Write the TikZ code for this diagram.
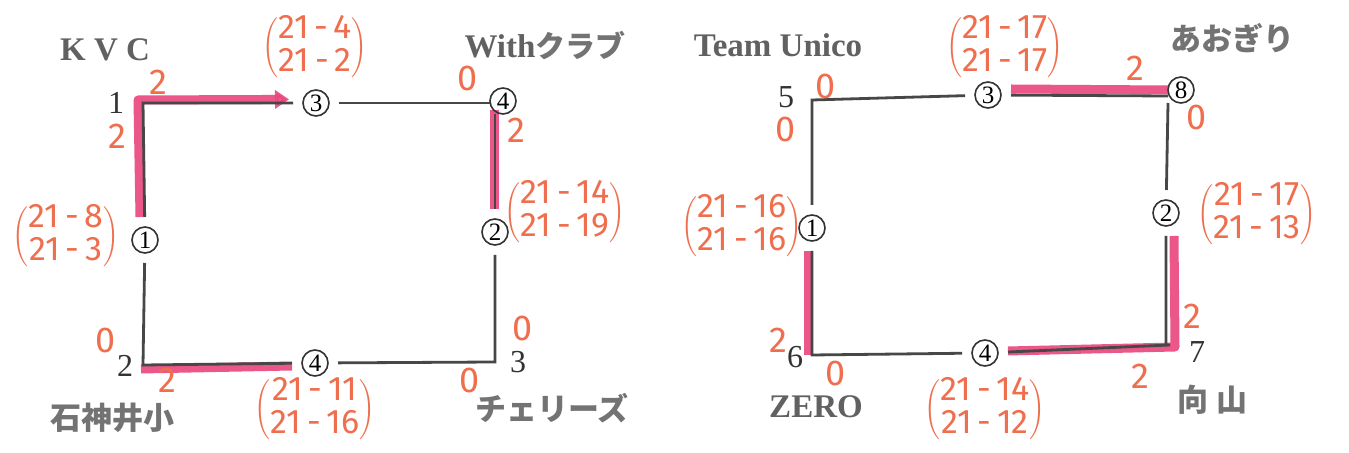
\documentclass[tikz,border=0pt]{standalone}
\usepackage{fontspec}
\setmainfont{Liberation Serif}
\newfontfamily\jp{Noto Sans CJK JP}
\newfontfamily\hand{Fira Sans}
\usetikzlibrary{backgrounds,arrows.meta}
\definecolor{hlpink}{HTML}{E8457C}
\definecolor{handc}{HTML}{EF6E4E}
\newcommand\scpair[2]{$\left(\vcenter{\hbox{\hand\fontsize{17}{15.5}\selectfont\begin{tabular}{@{}c@{}}#1\\#2\end{tabular}}}\right)$}
\begin{document}
\begin{tikzpicture}[x=0.5pt,y=-0.5pt,
 blk/.style={draw=black!72, line width=1.4pt},
 hl/.style={draw=hlpink, line width=4.5pt, opacity=0.9},
 cnum/.style={circle, draw=black!80, line width=0.8pt, inner sep=0pt, minimum size=13pt, font=\fontsize{12.5}{12.5}\selectfont, outer sep=5pt},
 team/.style={text=black!62, font=\fontsize{16.5}{18}\selectfont\bfseries, inner sep=0pt},
 jteam/.style={text=black!55, font=\fontsize{15.5}{17}\selectfont\jp\bfseries, inner sep=0pt},
 seed/.style={text=black!80, font=\fontsize{16}{18}\selectfont, inner sep=0pt},
 sc/.style={text=handc, font=\hand\fontsize{18}{18}\selectfont, inner sep=0pt},
 pr/.style={text=handc, inner sep=0pt, font=\fontsize{16}{16}\selectfont}]
\useasboundingbox (0,0) rectangle (1349,453);
\begin{scope}[on background layer]
\fill[white] (0,0) rectangle (1349,453);
\end{scope}
% ---------- left square ----------
\coordinate (L1) at (143,103);
\coordinate (L2) at (143,365);
\coordinate (L3) at (495,362);
\coordinate (L4) at (495,103);
\node[cnum] (Lt) at (316,103) {3};
\node[cnum, outer sep=0pt] (Ltr) at (503,101) {4};
\node[cnum] (Lr) at (495,232) {2};
\node[cnum] (Lb) at (315,363) {4};
\node[cnum] (Ll) at (145,240) {1};
\draw[blk] (Ll) -- (L1) -- (Lt);
\draw[blk] (Lt) -- (Ltr.west |- L4);
\draw[blk] (L4 |- Ltr.south) -- (Lr);
\draw[blk] (Lr) -- (L3) -- (Lb);
\draw[blk] (Lb) -- (L2) -- (Ll);
\begin{scope}[on background layer]
\draw[hl, line join=round, -{Triangle[length=7pt,width=9pt]}] ([xshift=-2.5pt]Ll.north) -- ([xshift=-2.5pt,yshift=1.5pt]L1) -- ([yshift=1.8pt,xshift=-2pt]Lt.west);
\draw[hl] ([xshift=-0.5pt]L4 |- Ltr.south) ++(0,-4) -- ([xshift=-0.5pt]Lr.north);
\draw[hl] ([yshift=-2pt,xshift=-1pt]L2) -- ([yshift=-1.5pt]Lb.west);
\end{scope}
\node[seed] (n1) at (116,103) {1};
\node[seed] (n2) at (125,366) {2};
\node[seed] (n3) at (518,362) {3};
\node[team] (tKVC) at (105,50) {K V C};
\node[team] (tWith) at (545,46) {With{\jp\fontsize{15}{17}\selectfont\color{black!55}クラブ}};
\node[jteam] (tIshi) at (112,418) {石神井小};
\node[jteam] (tCher) at (552,408) {チェリーズ};
\node[sc] (a1) at (158,82) {2};
\node[sc] (a2) at (117,136) {2};
\node[pr] (p1) at (315,48) {\scpair{21\,-\,4}{21\,-\,2}};
\node[pr] (p2) at (66,237) {\scpair{21\,-\,8}{21\,-\,3}};
\node[sc] (a3) at (468,79) {0};
\node[sc] (a4) at (516,130) {2};
\node[pr] (p3) at (565,213) {\scpair{21\,-\,14}{21\,-\,19}};
\node[sc] (a5) at (106,340) {0};
\node[sc] (a6) at (167,380) {2};
\node[pr] (p4) at (315,410) {\scpair{21\,-\,11}{21\,-\,16}};
\node[sc] (a7) at (523,328) {0};
\node[sc] (a8) at (470,380) {0};
% ---------- right square ----------
\coordinate (R5) at (812,100);
\coordinate (R8c) at (1168,96);
\coordinate (R7) at (1170,345);
\coordinate (R6) at (812,355);
\node[cnum] (Rt) at (988,95) {3};
\node[cnum, outer sep=0pt] (R8) at (1181,90) {8};
\node[cnum] (Rr) at (1166,213) {2};
\node[cnum] (Rb) at (985,353) {4};
\node[cnum] (Rl) at (812,228) {1};
\draw[blk] (Rl) -- (R5) -- (Rt);
\draw[blk] (Rt) -- (R8c);
\draw[blk] (R8c |- R8.south) -- (Rr);
\draw[blk] (Rr) -- (Rr |- R7) -- (R7) -- (Rb);
\draw[blk] (Rb) -- (R6) -- (Rl);
\begin{scope}[on background layer]
\draw[hl] ([yshift=3pt]Rt.east) -- ([yshift=3pt]R8c);
\draw[hl, line join=round] ([xshift=4pt]Rr.south) -- ([xshift=2.5pt,yshift=-1pt]R7) -- ([yshift=1pt]Rb.east);
\draw[hl] ([xshift=-2pt]Rl.south) -- ([xshift=-2pt]R6);
\end{scope}
\node[seed] (n5) at (786,97) {5};
\node[seed] (n6) at (795,357) {6};
\node[seed] (n7) at (1197,352) {7};
\node[team] (tUni) at (778,45) {Team Unico};
\node[jteam] (tAo) at (1232,38) {あおぎり};
\node[team] (tZero) at (816,407) {ZERO};
\node[jteam] (tMuk) at (1212,400) {向\hspace{4pt}山};
\node[sc] (b1) at (826,87) {0};
\node[sc] (b2) at (786,129) {0};
\node[pr] (q1) at (1005,48) {\scpair{21\,-\,17}{21\,-\,17}};
\node[sc] (b3) at (1135,68) {2};
\node[sc] (b4) at (1197,118) {0};
\node[pr] (q2) at (742,227) {\scpair{21\,-\,16}{21\,-\,16}};
\node[pr] (q3) at (1257,215) {\scpair{21\,-\,17}{21\,-\,13}};
\node[sc] (b5) at (1192,316) {2};
\node[sc] (b6) at (1140,376) {2};
\node[sc] (b7) at (778,340) {2};
\node[sc] (b8) at (836,373) {0};
\node[pr] (q4) at (985,410) {\scpair{21\,-\,14}{21\,-\,12}};
\end{tikzpicture}
\end{document}
